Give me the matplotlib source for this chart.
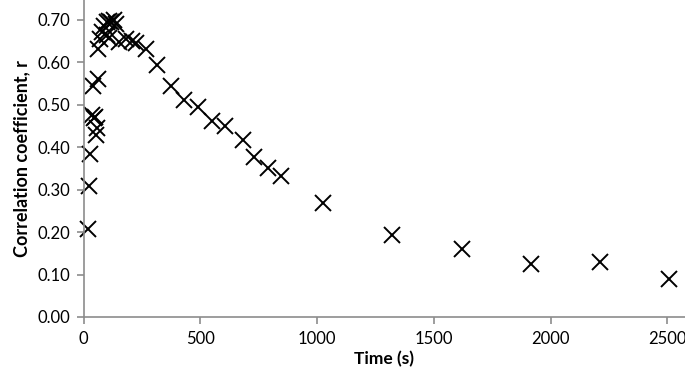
import numpy as np
import matplotlib.pyplot as plt

# time (s) and correlation coefficient
time_s = [18, 22, 27, 35, 42, 48, 52, 58, 38, 62,
          62, 68, 78, 88, 100, 108, 118, 128, 140, 100,
          110, 150, 180, 208, 225, 265, 315, 372, 429, 488,
          550, 607, 684, 728, 790, 846, 1026, 1320, 1620, 1915,
          2210, 2508]
corr_r = [0.207, 0.309, 0.383, 0.475, 0.468, 0.472, 0.428, 0.446, 0.545, 0.561,
          0.632, 0.655, 0.672, 0.686, 0.695, 0.698, 0.694, 0.700, 0.690, 0.665,
          0.658, 0.648, 0.655, 0.650, 0.645, 0.632, 0.593, 0.545, 0.512, 0.494,
          0.463, 0.450, 0.417, 0.376, 0.350, 0.333, 0.269, 0.193, 0.160, 0.125,
          0.130, 0.090]

xticks = [0, 500, 1000, 1500, 2000, 2500]
yticks = [0.0, 0.1, 0.2, 0.3, 0.4, 0.5, 0.6, 0.7]

plt.rcParams['font.family'] = ['Lato', 'DejaVu Sans']

fig = plt.figure(figsize=(6.85, 3.86), dpi=100)
ax = fig.add_axes([0.1222, 0.1788, 0.8778, 0.8212])

ax.plot(time_s, corr_r, linestyle='none', marker='x', markersize=12,
        markeredgewidth=1.4, color='black', clip_on=False)

ax.set_xlim(0, 2576)
ax.set_ylim(0, 0.747)
ax.set_xticks(xticks)
ax.set_yticks(yticks)
ax.set_yticklabels([f'{v:.2f}' for v in yticks])

for side in ['top', 'right']:
    ax.spines[side].set_visible(False)
for side in ['left', 'bottom']:
    ax.spines[side].set_color('#8c8c8c')
    ax.spines[side].set_linewidth(1.2)
ax.tick_params(direction='out', length=5, width=1.2, color='#8c8c8c',
               labelsize=12, labelcolor='black', pad=5)

ax.set_xlabel('Time (s)', fontsize=12.5, fontweight='bold', labelpad=3)
ax.set_ylabel('Correlation coefficient, r', fontsize=13, fontweight='bold', labelpad=5)

fig.savefig('out.png', dpi=100)
